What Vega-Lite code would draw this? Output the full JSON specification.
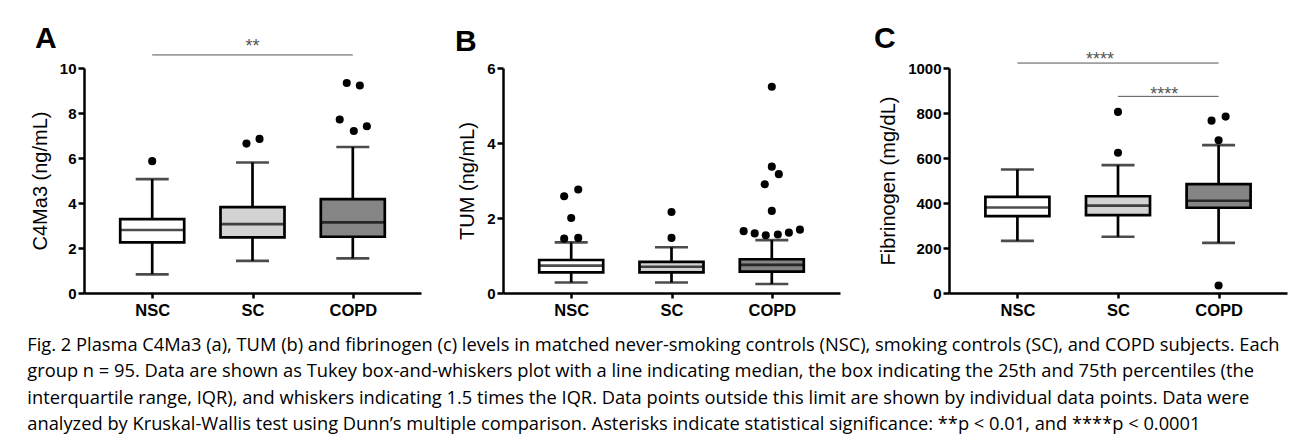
{
  "$schema": "https://vega.github.io/schema/vega-lite/v6.json",
  "background": "white",
  "padding": {"left": 27, "top": 23, "right": 5, "bottom": 0},
  "datasets": {
    "boxes": [
      {"panel": "A", "group": "NSC", "lower": 0.83, "q1": 2.25, "median": 2.8, "q3": 3.28, "upper": 5.06},
      {"panel": "A", "group": "SC", "lower": 1.43, "q1": 2.47, "median": 3.06, "q3": 3.82, "upper": 5.8},
      {"panel": "A", "group": "COPD", "lower": 1.54, "q1": 2.5, "median": 3.14, "q3": 4.17, "upper": 6.49},
      {"panel": "B", "group": "NSC", "lower": 0.28, "q1": 0.55, "median": 0.73, "q3": 0.88, "upper": 1.35},
      {"panel": "B", "group": "SC", "lower": 0.28, "q1": 0.55, "median": 0.7, "q3": 0.83, "upper": 1.22},
      {"panel": "B", "group": "COPD", "lower": 0.24, "q1": 0.57, "median": 0.75, "q3": 0.9, "upper": 1.41},
      {"panel": "C", "group": "NSC", "lower": 232, "q1": 342, "median": 380, "q3": 427, "upper": 549},
      {"panel": "C", "group": "SC", "lower": 250, "q1": 346, "median": 388, "q3": 430, "upper": 568},
      {"panel": "C", "group": "COPD", "lower": 223, "q1": 379, "median": 410, "q3": 484, "upper": 657}
    ],
    "outliers": [
      {"panel": "A", "group": "NSC", "value": 5.86, "jitter": 0},
      {"panel": "A", "group": "SC", "value": 6.64, "jitter": -0.06},
      {"panel": "A", "group": "SC", "value": 6.85, "jitter": 0.07},
      {"panel": "A", "group": "COPD", "value": 9.33, "jitter": -0.06},
      {"panel": "A", "group": "COPD", "value": 9.22, "jitter": 0.07},
      {"panel": "A", "group": "COPD", "value": 7.71, "jitter": -0.13},
      {"panel": "A", "group": "COPD", "value": 7.2, "jitter": 0.01},
      {"panel": "A", "group": "COPD", "value": 7.41, "jitter": 0.14},
      {"panel": "B", "group": "NSC", "value": 2.58, "jitter": -0.07},
      {"panel": "B", "group": "NSC", "value": 2.76, "jitter": 0.07},
      {"panel": "B", "group": "NSC", "value": 2.0, "jitter": 0},
      {"panel": "B", "group": "NSC", "value": 1.45, "jitter": -0.07},
      {"panel": "B", "group": "NSC", "value": 1.47, "jitter": 0.07},
      {"panel": "B", "group": "SC", "value": 2.16, "jitter": 0},
      {"panel": "B", "group": "SC", "value": 1.47, "jitter": 0},
      {"panel": "B", "group": "COPD", "value": 5.5, "jitter": 0},
      {"panel": "B", "group": "COPD", "value": 3.37, "jitter": 0},
      {"panel": "B", "group": "COPD", "value": 3.17, "jitter": 0.07},
      {"panel": "B", "group": "COPD", "value": 2.9, "jitter": -0.07},
      {"panel": "B", "group": "COPD", "value": 2.19, "jitter": 0},
      {"panel": "B", "group": "COPD", "value": 1.65, "jitter": -0.28},
      {"panel": "B", "group": "COPD", "value": 1.59, "jitter": -0.17},
      {"panel": "B", "group": "COPD", "value": 1.54, "jitter": -0.06},
      {"panel": "B", "group": "COPD", "value": 1.56, "jitter": 0.06},
      {"panel": "B", "group": "COPD", "value": 1.61, "jitter": 0.17},
      {"panel": "B", "group": "COPD", "value": 1.69, "jitter": 0.28},
      {"panel": "C", "group": "SC", "value": 805, "jitter": 0},
      {"panel": "C", "group": "SC", "value": 623, "jitter": 0},
      {"panel": "C", "group": "COPD", "value": 766, "jitter": -0.07},
      {"panel": "C", "group": "COPD", "value": 784, "jitter": 0.07},
      {"panel": "C", "group": "COPD", "value": 679, "jitter": 0},
      {"panel": "C", "group": "COPD", "value": 33, "jitter": 0}
    ],
    "sig": [
      {"panel": "A", "from": "NSC", "to": "COPD", "at": 10.58, "mid": "SC", "shift": 0, "labelAt": 11.16, "label": "**"},
      {"panel": "C", "from": "NSC", "to": "COPD", "at": 1022, "mid": "SC", "shift": -0.18, "labelAt": 1060, "label": "****"},
      {"panel": "C", "from": "SC", "to": "COPD", "at": 874, "mid": "SC", "shift": 0.46, "labelAt": 902, "label": "****"}
    ]
  },
  "title": {
    "text": [
      "Fig. 2 Plasma C4Ma3 (a), TUM (b) and fibrinogen (c) levels in matched never-smoking controls (NSC), smoking controls (SC), and COPD subjects. Each",
      "group n = 95. Data are shown as Tukey box-and-whiskers plot with a line indicating median, the box indicating the 25th and 75th percentiles (the",
      "interquartile range, IQR), and whiskers indicating 1.5 times the IQR. Data points outside this limit are shown by individual data points. Data were",
      "analyzed by Kruskal-Wallis test using Dunn’s multiple comparison. Asterisks indicate statistical significance: **p < 0.01, and ****p < 0.0001"
    ],
    "orient": "bottom",
    "anchor": "start",
    "font": "Open Sans",
    "fontSize": 18.3,
    "fontWeight": "normal",
    "lineHeight": 26.5,
    "color": "black",
    "offset": 18,
    "dx": -3
  },
  "spacing": 34,
  "hconcat": [
    {
      "width": 337,
      "height": 225,
      "title": {"text": "A", "anchor": "start", "frame": "group", "font": "Liberation Sans", "fontSize": 30, "fontWeight": "bold", "color": "black", "dx": -49, "offset": -16},
      "layer": [
        {
          "data": {"name": "boxes"},
          "transform": [{"filter": "datum.panel === 'A'"}],
          "mark": {"type": "rule", "color": "black", "strokeWidth": 2.7},
          "encoding": {
            "x": {"field": "group", "type": "nominal", "title": null, "scale": {"type": "point", "domain": ["NSC", "SC", "COPD"], "padding": 0.68}},
            "y": {"field": "lower", "type": "quantitative", "title": "C4Ma3 (ng/mL)", "scale": {"domain": [0, 10], "nice": false}, "axis": {"values": [0, 2, 4, 6, 8, 10]}},
            "y2": {"field": "upper"}
          }
        },
        {
          "data": {"name": "boxes"},
          "transform": [{"filter": "datum.panel === 'A'"}],
          "mark": {"type": "bar", "size": 64, "stroke": "black", "strokeWidth": 2.7},
          "encoding": {
            "x": {"field": "group", "type": "nominal", "title": null},
            "y": {"field": "q1", "type": "quantitative", "title": "C4Ma3 (ng/mL)"},
            "y2": {"field": "q3"},
            "fill": {"field": "group", "type": "nominal", "legend": null, "scale": {"domain": ["NSC", "SC", "COPD"], "range": ["#ffffff", "#d3d3d3", "#858585"]}}
          }
        },
        {
          "data": {"name": "boxes"},
          "transform": [{"filter": "datum.panel === 'A'"}],
          "mark": {"type": "tick", "size": 64, "thickness": 2.7, "color": "black"},
          "encoding": {
            "x": {"field": "group", "type": "nominal", "title": null},
            "y": {"field": "median", "type": "quantitative", "title": "C4Ma3 (ng/mL)"}
          }
        },
        {
          "data": {"name": "boxes"},
          "transform": [{"filter": "datum.panel === 'A'"}],
          "mark": {"type": "tick", "size": 33, "thickness": 2.7, "color": "black"},
          "encoding": {
            "x": {"field": "group", "type": "nominal", "title": null},
            "y": {"field": "lower", "type": "quantitative", "title": "C4Ma3 (ng/mL)"}
          }
        },
        {
          "data": {"name": "boxes"},
          "transform": [{"filter": "datum.panel === 'A'"}],
          "mark": {"type": "tick", "size": 33, "thickness": 2.7, "color": "black"},
          "encoding": {
            "x": {"field": "group", "type": "nominal", "title": null},
            "y": {"field": "upper", "type": "quantitative", "title": "C4Ma3 (ng/mL)"}
          }
        },
        {
          "data": {"name": "outliers"},
          "transform": [{"filter": "datum.panel === 'A'"}],
          "mark": {"type": "circle", "size": 65, "color": "black", "opacity": 1},
          "encoding": {
            "x": {"field": "group", "type": "nominal", "title": null},
            "xOffset": {"field": "jitter", "type": "quantitative", "scale": {"domain": [-1, 1], "range": [-100.5, 100.5]}},
            "y": {"field": "value", "type": "quantitative", "title": "C4Ma3 (ng/mL)"}
          }
        },
        {
          "data": {"name": "sig"},
          "transform": [{"filter": "datum.panel === 'A'"}],
          "mark": {"type": "rule", "color": "#555555", "strokeWidth": 1},
          "encoding": {
            "x": {"field": "from", "type": "nominal", "title": null},
            "x2": {"field": "to"},
            "y": {"field": "at", "type": "quantitative", "title": "C4Ma3 (ng/mL)"}
          }
        },
        {
          "data": {"name": "sig"},
          "transform": [{"filter": "datum.panel === 'A'"}],
          "mark": {"type": "text", "font": "Liberation Sans", "fontSize": 18, "color": "#555555", "baseline": "alphabetic", "dy": 10},
          "encoding": {
            "x": {"field": "mid", "type": "nominal", "title": null},
            "xOffset": {"field": "shift", "type": "quantitative", "scale": {"domain": [-1, 1], "range": [-100.5, 100.5]}},
            "y": {"field": "labelAt", "type": "quantitative", "title": "C4Ma3 (ng/mL)"},
            "text": {"field": "label"}
          }
        }
      ]
    },
    {
      "width": 337,
      "height": 225,
      "title": {"text": "B", "anchor": "start", "frame": "group", "font": "Liberation Sans", "fontSize": 30, "fontWeight": "bold", "color": "black", "dx": -48, "offset": 4},
      "layer": [
        {
          "data": {"name": "boxes"},
          "transform": [{"filter": "datum.panel === 'B'"}],
          "mark": {"type": "rule", "color": "black", "strokeWidth": 2.7},
          "encoding": {
            "x": {"field": "group", "type": "nominal", "title": null, "scale": {"type": "point", "domain": ["NSC", "SC", "COPD"], "padding": 0.68}},
            "y": {"field": "lower", "type": "quantitative", "title": "TUM (ng/mL)", "scale": {"domain": [0, 6], "nice": false}, "axis": {"values": [0, 2, 4, 6]}},
            "y2": {"field": "upper"}
          }
        },
        {
          "data": {"name": "boxes"},
          "transform": [{"filter": "datum.panel === 'B'"}],
          "mark": {"type": "bar", "size": 64, "stroke": "black", "strokeWidth": 2.7},
          "encoding": {
            "x": {"field": "group", "type": "nominal", "title": null},
            "y": {"field": "q1", "type": "quantitative", "title": "TUM (ng/mL)"},
            "y2": {"field": "q3"},
            "fill": {"field": "group", "type": "nominal", "legend": null, "scale": {"domain": ["NSC", "SC", "COPD"], "range": ["#ffffff", "#d3d3d3", "#858585"]}}
          }
        },
        {
          "data": {"name": "boxes"},
          "transform": [{"filter": "datum.panel === 'B'"}],
          "mark": {"type": "tick", "size": 64, "thickness": 2.7, "color": "black"},
          "encoding": {
            "x": {"field": "group", "type": "nominal", "title": null},
            "y": {"field": "median", "type": "quantitative", "title": "TUM (ng/mL)"}
          }
        },
        {
          "data": {"name": "boxes"},
          "transform": [{"filter": "datum.panel === 'B'"}],
          "mark": {"type": "tick", "size": 33, "thickness": 2.7, "color": "black"},
          "encoding": {
            "x": {"field": "group", "type": "nominal", "title": null},
            "y": {"field": "lower", "type": "quantitative", "title": "TUM (ng/mL)"}
          }
        },
        {
          "data": {"name": "boxes"},
          "transform": [{"filter": "datum.panel === 'B'"}],
          "mark": {"type": "tick", "size": 33, "thickness": 2.7, "color": "black"},
          "encoding": {
            "x": {"field": "group", "type": "nominal", "title": null},
            "y": {"field": "upper", "type": "quantitative", "title": "TUM (ng/mL)"}
          }
        },
        {
          "data": {"name": "outliers"},
          "transform": [{"filter": "datum.panel === 'B'"}],
          "mark": {"type": "circle", "size": 65, "color": "black", "opacity": 1},
          "encoding": {
            "x": {"field": "group", "type": "nominal", "title": null},
            "xOffset": {"field": "jitter", "type": "quantitative", "scale": {"domain": [-1, 1], "range": [-100.5, 100.5]}},
            "y": {"field": "value", "type": "quantitative", "title": "TUM (ng/mL)"}
          }
        }
      ]
    },
    {
      "width": 338,
      "height": 225,
      "title": {"text": "C", "anchor": "start", "frame": "group", "font": "Liberation Sans", "fontSize": 30, "fontWeight": "bold", "color": "black", "dx": -75, "offset": -3},
      "layer": [
        {
          "data": {"name": "boxes"},
          "transform": [{"filter": "datum.panel === 'C'"}],
          "mark": {"type": "rule", "color": "black", "strokeWidth": 2.7},
          "encoding": {
            "x": {"field": "group", "type": "nominal", "title": null, "scale": {"type": "point", "domain": ["NSC", "SC", "COPD"], "padding": 0.68}},
            "y": {"field": "lower", "type": "quantitative", "title": "Fibrinogen (mg/dL)", "scale": {"domain": [0, 1000], "nice": false}, "axis": {"values": [0, 200, 400, 600, 800, 1000], "format": "d"}},
            "y2": {"field": "upper"}
          }
        },
        {
          "data": {"name": "boxes"},
          "transform": [{"filter": "datum.panel === 'C'"}],
          "mark": {"type": "bar", "size": 64, "stroke": "black", "strokeWidth": 2.7},
          "encoding": {
            "x": {"field": "group", "type": "nominal", "title": null},
            "y": {"field": "q1", "type": "quantitative", "title": "Fibrinogen (mg/dL)"},
            "y2": {"field": "q3"},
            "fill": {"field": "group", "type": "nominal", "legend": null, "scale": {"domain": ["NSC", "SC", "COPD"], "range": ["#ffffff", "#d3d3d3", "#858585"]}}
          }
        },
        {
          "data": {"name": "boxes"},
          "transform": [{"filter": "datum.panel === 'C'"}],
          "mark": {"type": "tick", "size": 64, "thickness": 2.7, "color": "black"},
          "encoding": {
            "x": {"field": "group", "type": "nominal", "title": null},
            "y": {"field": "median", "type": "quantitative", "title": "Fibrinogen (mg/dL)"}
          }
        },
        {
          "data": {"name": "boxes"},
          "transform": [{"filter": "datum.panel === 'C'"}],
          "mark": {"type": "tick", "size": 33, "thickness": 2.7, "color": "black"},
          "encoding": {
            "x": {"field": "group", "type": "nominal", "title": null},
            "y": {"field": "lower", "type": "quantitative", "title": "Fibrinogen (mg/dL)"}
          }
        },
        {
          "data": {"name": "boxes"},
          "transform": [{"filter": "datum.panel === 'C'"}],
          "mark": {"type": "tick", "size": 33, "thickness": 2.7, "color": "black"},
          "encoding": {
            "x": {"field": "group", "type": "nominal", "title": null},
            "y": {"field": "upper", "type": "quantitative", "title": "Fibrinogen (mg/dL)"}
          }
        },
        {
          "data": {"name": "outliers"},
          "transform": [{"filter": "datum.panel === 'C'"}],
          "mark": {"type": "circle", "size": 65, "color": "black", "opacity": 1},
          "encoding": {
            "x": {"field": "group", "type": "nominal", "title": null},
            "xOffset": {"field": "jitter", "type": "quantitative", "scale": {"domain": [-1, 1], "range": [-100.5, 100.5]}},
            "y": {"field": "value", "type": "quantitative", "title": "Fibrinogen (mg/dL)"}
          }
        },
        {
          "data": {"name": "sig"},
          "transform": [{"filter": "datum.panel === 'C'"}],
          "mark": {"type": "rule", "color": "#555555", "strokeWidth": 1},
          "encoding": {
            "x": {"field": "from", "type": "nominal", "title": null},
            "x2": {"field": "to"},
            "y": {"field": "at", "type": "quantitative", "title": "Fibrinogen (mg/dL)"}
          }
        },
        {
          "data": {"name": "sig"},
          "transform": [{"filter": "datum.panel === 'C'"}],
          "mark": {"type": "text", "font": "Liberation Sans", "fontSize": 18, "color": "#555555", "baseline": "alphabetic", "dy": 10},
          "encoding": {
            "x": {"field": "mid", "type": "nominal", "title": null},
            "xOffset": {"field": "shift", "type": "quantitative", "scale": {"domain": [-1, 1], "range": [-100.5, 100.5]}},
            "y": {"field": "labelAt", "type": "quantitative", "title": "Fibrinogen (mg/dL)"},
            "text": {"field": "label"}
          }
        }
      ]
    }
  ],
  "config": {
    "view": {"stroke": null},
    "font": "Liberation Sans",
    "axis": {
      "grid": false,
      "domainColor": "black",
      "domainWidth": 2.5,
      "tickColor": "black",
      "tickWidth": 2.5,
      "labelColor": "black",
      "labelFont": "Liberation Sans",
      "labelFontWeight": "bold",
      "titleColor": "black",
      "titleFont": "Liberation Sans",
      "titleFontSize": 20,
      "titleFontWeight": "normal"
    },
    "axisX": {"tickSize": 5, "labelPadding": 4, "labelAngle": 0, "labelFontSize": 16.5},
    "axisY": {"tickSize": 6, "labelPadding": 2, "titlePadding": 9, "labelFontSize": 15}
  }
}
